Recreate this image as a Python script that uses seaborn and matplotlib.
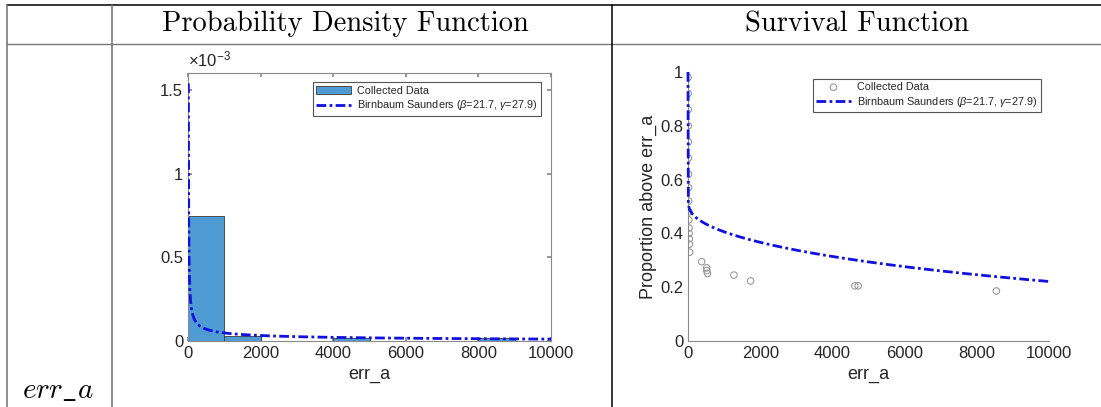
import numpy as np
import pandas as pd
import matplotlib
matplotlib.use("Agg")
import matplotlib.pyplot as plt
import seaborn as sns
from math import erf, sqrt, pi

sns.set_theme(style="white")
plt.rcParams["font.family"] = ["Liberation Sans", "DejaVu Sans"]
plt.rcParams["mathtext.fontset"] = "custom"
plt.rcParams["mathtext.rm"] = "Liberation Sans"
plt.rcParams["mathtext.it"] = "Liberation Sans:italic"

# ---- data ----
variable_name = "err_a"
col_titles = ["Probability Density Function", "Survival Function"]

# Birnbaum-Saunders fit parameters
bs_beta = 21.7
bs_gamma = 27.9

# histogram of collected data (density per bin of width 1000)
bin_edges = [0, 1000, 2000, 3000, 4000, 5000, 6000, 7000, 8000, 9000, 10000]
bin_density = [0.747e-3, 0.027e-3, 0.0, 0.0, 0.018e-3, 0.0, 0.0, 0.0, 0.019e-3, 0.0]

# empirical survival points of collected data
surv_x = [2, 4, 5, 7, 9, 11, 13, 15, 18, 20, 24, 28, 32, 36, 40, 45,
          378, 517, 520, 540, 1273, 1734, 4622, 4714, 8542]
surv_y = [0.98, 0.92, 0.86, 0.80, 0.74, 0.68, 0.62, 0.57, 0.52, 0.48, 0.45,
          0.42, 0.40, 0.38, 0.36, 0.33, 0.295, 0.272, 0.262, 0.251, 0.245,
          0.223, 0.205, 0.205, 0.186]

fit_label = r"Birnbaum Saunders ($\beta$=21.7, $\gamma$=27.9)"

# ---- fitted curves on an evaluation grid of step 10 ----
xs = np.linspace(0, 10000, 1001)
xp = xs[1:]
z = (np.sqrt(xp / bs_beta) - np.sqrt(bs_beta / xp)) / bs_gamma
phi = np.exp(-0.5 * z ** 2) / np.sqrt(2 * pi)
pdf = (np.sqrt(xp / bs_beta) + np.sqrt(bs_beta / xp)) / (2 * bs_gamma * xp) * phi
sf = np.concatenate([[1.0], [0.5 * (1 - erf(v / sqrt(2))) for v in z]])
pdf_df = pd.DataFrame({"x": xp, "pdf": pdf})
sf_df = pd.DataFrame({"x": xs, "sf": sf})

W, H = 1101, 407
fig = plt.figure(figsize=(W / 100, H / 100), dpi=100)

# ---- table frame ----
def hline(y, x0, x1, color, lw=1.0):
    fig.add_artist(plt.Line2D([x0 / W, x1 / W], [1 - y / H, 1 - y / H], color=color, lw=lw))

def vline(x, y0, y1, color, lw=1.0):
    fig.add_artist(plt.Line2D([x / W, x / W], [1 - y0 / H, 1 - y1 / H], color=color, lw=lw))

hline(5, 7, W, "black", 1.1)
hline(44, 7, W, "#7a7a7a", 1.0)
vline(7, 5, H, "#707070", 1.1)
vline(112, 5, H, "#707070", 1.1)
vline(612, 5, H, "black", 1.1)

fig.text(345 / W, 1 - 24 / H, col_titles[0], fontsize=20.5, family="cmr10",
         ha="center", va="center", color="black")
fig.text(857 / W, 1 - 24 / H, col_titles[1], fontsize=20.5, family="cmr10",
         ha="center", va="center", color="black")
fig.text(58 / W, 1 - 390 / H, r"$err\_a$", fontsize=21, math_fontfamily="cm",
         ha="center", va="center", color="black")

tick_color = "#262626"
axis_color = "#8a8a8a"
fit_style = dict(color="#1010e0", lw=2.0, linestyle=(0, (3.5, 1.2, 1.0, 1.2)),
                 estimator=None, sort=False, zorder=4)


def order_legend(ax, **kw):
    handles, labels = ax.get_legend_handles_labels()
    idx = sorted(range(len(labels)), key=lambda i: 0 if labels[i] == "Collected Data" else 1)
    leg = ax.legend([handles[i] for i in idx], [labels[i] for i in idx],
                    loc="upper right", fontsize=7.8, frameon=True, fancybox=False,
                    framealpha=1, edgecolor="#555555", handlelength=3.2,
                    borderpad=0.3, labelspacing=0.25, handletextpad=0.6, **kw)
    leg.get_frame().set_linewidth(0.8)
    return leg


# ---- PDF panel ----
ax1 = fig.add_axes([188 / W, 1 - 341 / H, 363 / W, 268 / H])
centers = [(a + b) / 2 for a, b in zip(bin_edges[:-1], bin_edges[1:])]
sns.histplot(x=centers, weights=bin_density, bins=bin_edges, stat="count",
             color="#4f9bd4", edgecolor="#3a3a3a", linewidth=0.6, alpha=1.0,
             ax=ax1, label="Collected Data")
sns.lineplot(data=pdf_df, x="x", y="pdf", ax=ax1, label=fit_label, **fit_style)
ax1.set_xlim(0, 10000)
ax1.set_ylim(0, 1.6e-3)
ax1.set_xticks(range(0, 10001, 2000))
ax1.set_yticks([0, 0.5e-3, 1e-3, 1.5e-3])
ax1.set_yticklabels(["0", "0.5", "1", "1.5"])
ax1.text(0.0, 1.015, r"$\times10^{-3}$", transform=ax1.transAxes, fontsize=12,
         color=tick_color, ha="left", va="bottom")
ax1.set_xlabel(variable_name, fontsize=13, color=tick_color, labelpad=4)
ax1.set_ylabel("")
for s in ax1.spines.values():
    s.set_color(axis_color)
    s.set_linewidth(0.8)
ax1.tick_params(direction="in", length=3, labelsize=12, colors=axis_color,
                labelcolor=tick_color, top=True, right=True, bottom=True, left=True)
order_legend(ax1, bbox_to_anchor=(0.988, 0.985))

# ---- survival panel ----
ax2 = fig.add_axes([688 / W, 1 - 341 / H, 361 / W, 269 / H])
sns.scatterplot(x=surv_x, y=surv_y, ax=ax2, marker="o", s=22,
                facecolor="none", edgecolor="#9a9a9a", linewidth=0.8,
                label="Collected Data")
sns.lineplot(data=sf_df, x="x", y="sf", ax=ax2, label=fit_label, **fit_style)
ax2.lines[-1].set_clip_on(False)
ax2.set_xlim(0, 10000)
ax2.set_ylim(0, 1)
ax2.set_xticks(range(0, 10001, 2000))
ax2.set_yticks([0, 0.2, 0.4, 0.6, 0.8, 1.0])
ax2.set_yticklabels(["0", "0.2", "0.4", "0.6", "0.8", "1"])
ax2.set_xlabel(variable_name, fontsize=13, color=tick_color, labelpad=4)
ax2.set_ylabel("Proportion above " + variable_name, fontsize=13, color=tick_color, labelpad=2)
ax2.spines["top"].set_visible(False)
ax2.spines["right"].set_visible(False)
for s in ("left", "bottom"):
    ax2.spines[s].set_color(axis_color)
    ax2.spines[s].set_linewidth(0.8)
ax2.tick_params(direction="in", length=0, labelsize=12, labelcolor=tick_color)
order_legend(ax2, bbox_to_anchor=(0.993, 0.995))

fig.savefig("out.png", dpi=100)
